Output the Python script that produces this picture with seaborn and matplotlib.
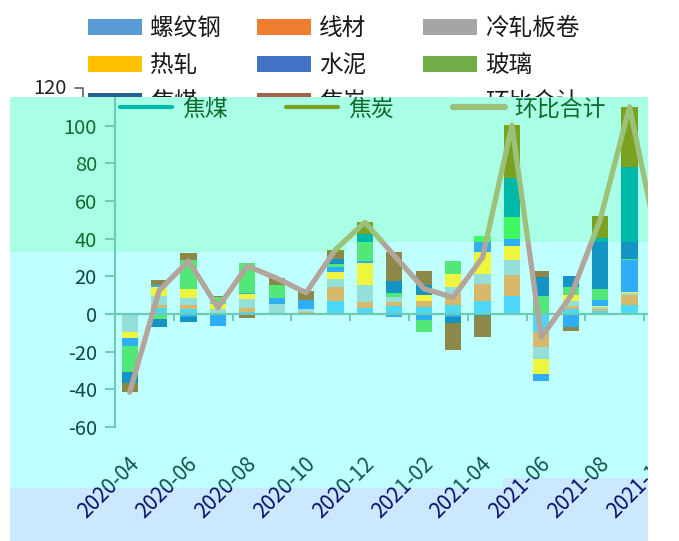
import numpy as np
import matplotlib
matplotlib.use('Agg')
import matplotlib.pyplot as plt
import matplotlib.transforms as mtransforms
from matplotlib.patches import Polygon, Patch
from matplotlib.lines import Line2D
import seaborn as sns

sns.set_theme(style='white')
plt.rcParams['font.family'] = ['Noto Sans CJK SC', 'DejaVu Sans']
plt.rcParams['axes.unicode_minus'] = False

# ---------------- data ----------------
months = ['2020-04', '2020-05', '2020-06', '2020-07', '2020-08', '2020-09', '2020-10',
          '2020-11', '2020-12', '2021-01', '2021-02', '2021-03', '2021-04', '2021-05',
          '2021-06', '2021-07', '2021-08', '2021-09', '2021-10']

series_names = ['螺纹钢', '线材', '冷轧板卷', '热轧', '水泥', '玻璃', '焦煤', '焦炭']

rebar = [0, 3.0, 2.5, 0, 1.2, 0, 0, 6.7, 3.2, 4.0, 3.5, 4.9, 7.1, 9.7, -9.8, 2.7, 1.4, 5.0, 4.0]
wire = [0, 2.0, 2.3, 0, 2.2, 0, 1.0, 7.5, 3.0, 2.2, 3.2, 5.7, 8.9, 11.2, -7.9, 1.7, 1.4, 5.3, 3.0]
cold_rolled = [-9.8, 4.3, 3.6, 2.7, 4.4, 5.5, 1.5, 4.4, 9.4, 2.6, 0, 3.9, 5.3, 7.8, -6.3, 2.7, 0.8, 0.6, 2.0]
hot_rolled = [-3.0, 5.0, 4.7, 2.7, 2.7, 0, -0.5, 3.5, 11.3, 0, 3.6, 6.8, 11.5, 7.6, -7.9, 3.2, 0.8, 0.6, 3.0]
cement = [-4.1, 1.2, -1.8, -6.6, 0.8, 3.2, 4.8, 2.7, 1.5, -1.4, -3.2, -1.8, 5.3, 3.6, -3.6, -7.1, 3.0, 17.3, 2.0]
glass = [-14.1, -2.7, 15.6, 3.5, 16.0, 6.7, 0, 1.8, 9.7, 2.2, -6.6, 6.7, 3.5, 11.5, 9.7, 3.9, 5.9, 0.4, 3.0]
coking_coal = [-5.4, -4.1, -2.6, 0, 0, 0, 0, 2.7, 4.4, 6.3, 5.3, -3.2, -0.9, 20.9, 9.8, 5.8, 26.9, 48.7, 8.0]
coke = [-4.8, 2.7, 3.6, 0.9, -2.1, 3.9, 4.9, 4.9, 6.2, 15.5, 7.1, -14.1, -11.2, 27.9, 3.5, -2.1, 11.7, 31.9, 10.0]

mom_total = [-41.5, 12.4, 28.2, 3.4, 25.5, 19.0, 11.3, 34.2, 48.7, 31.0, 13.5, 8.8, 30.0,
             100.2, -12.4, 9.5, 50.0, 110.0, 35.0]

series_values = [rebar, wire, cold_rolled, hot_rolled, cement, glass, coking_coal, coke]

# colours as rendered in the lower and upper parts of the picture
colors_low = ['#4ED8F8', '#D8B86A', '#94DFD8', '#EEF53C', '#2EAEF6', '#52E878', '#1494C4', '#8C8848']
colors_up = ['#4ED8F8', '#D8B86A', '#94DFD8', '#EEF53C', '#2EAEF6', '#40F862', '#00B8A8', '#7AA220']
line_low, line_up = '#B2A69C', '#9CC27A'
# legend colours of the original office chart
legend_colors = ['#5B9BD5', '#ED7D31', '#A5A5A5', '#FFC000', '#4472C4', '#70AD47', '#255E91', '#A2614A']
legend_line = '#A9C98A'

# ---------------- figure ----------------
W, H = 679, 541
fig = plt.figure(figsize=(W / 100, H / 100), dpi=100)
fig.patch.set_facecolor('white')


def fig_poly(pts, **kw):
    # pixel points, origin top-left
    return Polygon([(x / W, 1 - y / H) for x, y in pts], closed=True,
                   transform=fig.transFigure, **kw)


def fig_bbox(x0, y0, x1, y1):
    return mtransforms.TransformedBbox(
        mtransforms.Bbox([[x0 / W, 1 - y1 / H], [x1 / W, 1 - y0 / H]]), fig.transFigure)


# background bands
fig.patches.append(fig_poly([(10, 97), (648, 97), (648, 541), (10, 541)],
                            facecolor='#C0FFFF', edgecolor='none', zorder=-2))
fig.patches.append(fig_poly([(10, 97), (648, 97), (648, 242), (347, 242), (347, 252), (10, 252)],
                            facecolor='#A8FFE6', edgecolor='none', zorder=-2))
fig.patches.append(fig_poly([(10, 488), (503, 488), (503, 478), (648, 478), (648, 541), (10, 541)],
                            facecolor='#CCE8FF', edgecolor='none', zorder=-2))

upper_clip = fig_poly([(0, 0), (679, 0), (679, 242), (347, 242), (347, 252), (0, 252)])
lower_clip = fig_poly([(0, 252), (347, 252), (347, 242), (679, 242), (679, 541), (0, 541)])

ax = fig.add_axes([115 / W, (H - 427) / H, (673.6 - 115) / W, (427 - 88) / H])
ax.set_facecolor('none')

x = np.arange(len(months))
vals = np.array(series_values, dtype=float)

for colors, clip in [(colors_low, lower_clip), (colors_up, upper_clip)]:
    pos_base = np.zeros(len(months))
    neg_base = np.zeros(len(months))
    for i, v in enumerate(vals):
        pos = np.clip(v, 0, None)
        neg = np.clip(v, None, 0)
        for h, b in [(pos, pos_base), (neg, neg_base)]:
            bars = ax.bar(x, h, width=0.55, bottom=b, color=colors[i], linewidth=0, zorder=2)
            for p in bars:
                p.set_clip_path(clip)
        pos_base = pos_base + pos
        neg_base = neg_base + neg

for c, clip in [(line_low, lower_clip), (line_up, upper_clip)]:
    sns.lineplot(x=x, y=mom_total, ax=ax, color=c, linewidth=3.8, legend=False, sort=False)
    ln = ax.lines[-1]
    ln.set_zorder(3)
    ln.set_solid_joinstyle('round')
    ln.set_solid_capstyle('round')
    ln.set_clip_path(clip)

ax.set_xlim(-0.5, len(months) - 0.5)
ax.set_ylim(-60, 120)

spine_c = '#6CCBB4'
for s in ['top', 'right']:
    ax.spines[s].set_visible(False)
ax.spines['left'].set_color(spine_c)
ax.spines['left'].set_linewidth(1.5)
ax.spines['left'].set_bounds(-60, 114.5)
ax.spines['bottom'].set_position(('data', 0))
ax.spines['bottom'].set_color(spine_c)
ax.spines['bottom'].set_linewidth(1.6)

yt = list(range(-60, 101, 20))
ax.set_yticks(yt)
ax.set_yticklabels([str(v) for v in yt])
ax.tick_params(axis='y', direction='out', length=7.2, width=1.4, color=spine_c,
               pad=5.8, labelsize=14.5, left=True)
for lab, v in zip(ax.get_yticklabels(), yt):
    lab.set_color('#0E6B2C' if v >= 40 else '#0A4A42')

ax.set_xticks(np.arange(1.5, len(months) - 0.5, 2))
ax.set_xticklabels([])
ax.tick_params(axis='x', direction='out', length=5, width=1.4, color=spine_c, bottom=True)
ax.grid(False)

# category labels (drawn low, under the plot)
trans = mtransforms.blended_transform_factory(ax.transData, ax.transAxes)
for i in range(0, len(months), 2):
    xpx = 115 + (i + 0.5) * 29.4
    edge = 488 if xpx < 503 else 478
    for col, box in [('#0B5A48', fig_bbox(0, 0, W, edge)), ('#0A0F6A', fig_bbox(0, edge, W, H))]:
        t = fig.text(i + 0.2, -0.1, months[i], transform=trans, rotation=45,
                     rotation_mode='anchor', ha='right', va='center', fontsize=15,
                     color=col, zorder=3)
        t.set_clip_on(True)
        t.set_clip_box(box)

# side masks
fig.patches.append(fig_poly([(648, 0), (W, 0), (W, H), (648, H)],
                            facecolor='white', edgecolor='none', zorder=10))
fig.patches.append(fig_poly([(0, 97), (10, 97), (10, H), (0, H)],
                            facecolor='white', edgecolor='none', zorder=10))

# original legend, row-wise in three columns
fs = 17
items = [(Patch(facecolor=c, edgecolor='none'), n) for c, n in zip(legend_colors, series_names)]
items.append((Line2D([], [], color=legend_line, linewidth=4, solid_capstyle='round'), '环比合计'))
col_x = [88, 257, 423]
for k in range(3):
    col_items = items[k::3]
    leg = fig.legend([h for h, _ in col_items], [n for _, n in col_items],
                     loc='upper left', bbox_to_anchor=(col_x[k] / W, 1 - 17 / H),
                     frameon=False, fontsize=fs, borderpad=0, borderaxespad=0,
                     handlelength=2.3, handleheight=0.68, handletextpad=0.32,
                     labelspacing=0.6)
    for t in leg.get_texts():
        t.set_color('#1A1A1A')
    leg.set_zorder(-3)

fig.text(67 / W, 1 - 88 / H, '120', ha='right', va='center', fontsize=14.5,
         color='#222222', zorder=-3)
fig.lines.append(Line2D([75 / W, 83 / W, 83 / W], [1 - 88 / H, 1 - 88 / H, 1 - 100 / H],
                        transform=fig.transFigure, color='#606060', linewidth=1.2, zorder=-3))

# legend drawn inside the band
ov = fig.legend([Line2D([], [], color=colors_up[6], linewidth=3),
                 Line2D([], [], color=colors_up[7], linewidth=3),
                 Line2D([], [], color=line_up, linewidth=4.5, solid_capstyle='round')],
                ['焦煤', '焦炭', '环比合计'], ncol=3, loc='center left',
                bbox_to_anchor=(120 / W, 1 - 109 / H), frameon=False, fontsize=16.5,
                borderpad=0, borderaxespad=0, handlelength=2.27, handletextpad=0.44,
                columnspacing=2.55)
band_box = fig_bbox(0, 97, W, H)
for t in ov.get_texts():
    t.set_color('#0D6A2B')
    t.set_clip_on(True)
    t.set_clip_box(band_box)
for ln in ov.get_lines():
    ln.set_clip_on(True)
    ln.set_clip_box(band_box)
ov.set_zorder(3)

fig.savefig('out.png', dpi=100)
